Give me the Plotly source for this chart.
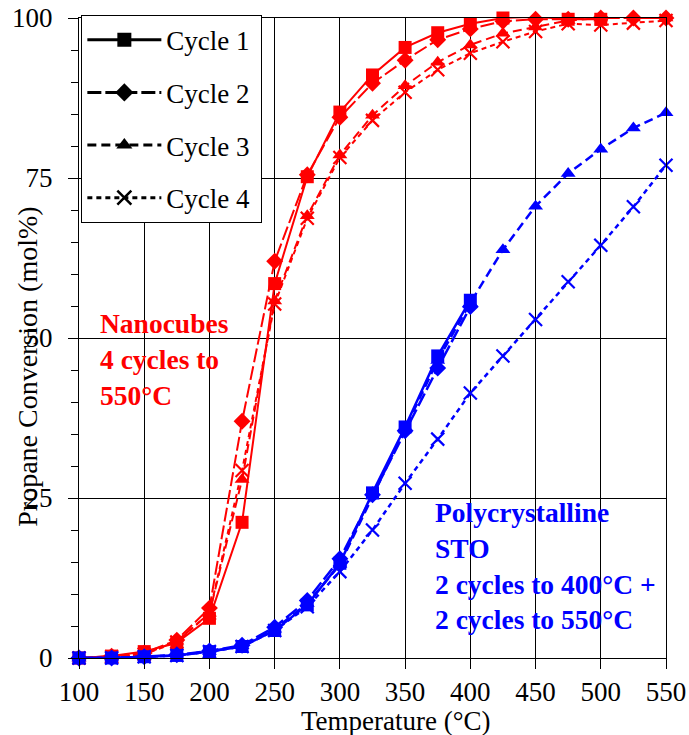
import plotly.graph_objects as go

temps = [100, 125, 150, 175, 200, 225, 250, 275, 300, 325, 350, 375, 400,
         425, 450, 475, 500, 525, 550]
temps_400 = temps[:13]

# Nanocubes (red), 4 cycles to 550 C
nano_c1 = [0, 0.3, 1.0, 2.4, 6.2, 21.2, 58.5, 75.2, 85.3, 91.1, 95.4, 97.7, 99.1,
           100.0, 100.2, 99.8, 99.8, 100.6, 100.3]
nano_c2 = [0, 0.3, 0.8, 2.8, 7.8, 37.0, 62.0, 75.5, 84.5, 89.8, 93.4, 96.6, 98.3,
           99.5, 99.8, 99.8, 100.0, 100.0, 100.0]
nano_c3 = [0, 0.2, 0.6, 2.6, 7.0, 27.9, 55.8, 69.1, 78.6, 84.8, 89.4, 93.1, 95.8,
           97.6, 98.6, 99.6, 100.0, 100.0, 100.0]
nano_c4 = [0, 0.2, 0.6, 2.5, 7.0, 29.3, 55.3, 68.7, 78.2, 84.0, 88.4, 91.9, 94.5,
           96.3, 97.9, 99.1, 98.9, 99.2, 99.6]

# Polycrystalline STO (blue): 2 cycles to 400 C + 2 cycles to 550 C
poly_c1 = [0, 0, 0.2, 0.4, 1.0, 1.8, 4.3, 8.3, 14.8, 25.8, 36.1, 47.2, 55.9]
poly_c2 = [0, 0, 0.2, 0.5, 1.1, 2.0, 4.8, 9.0, 15.5, 25.5, 35.5, 45.3, 54.9]
poly_c3 = [0, 0, 0.2, 0.4, 1.0, 1.9, 4.5, 8.5, 14.6, 25.3, 35.8, 46.5, 55.5,
           63.8, 70.6, 75.7, 79.5, 82.8, 85.2]
poly_c4 = [0, 0, 0.2, 0.4, 1.0, 1.8, 4.3, 8.0, 13.5, 20.0, 27.3, 34.2, 41.4,
           47.2, 52.9, 58.8, 64.5, 70.5, 77.0]

cycle_names = ["Cycle 1", "Cycle 2", "Cycle 3", "Cycle 4"]
x_ticks = [100, 150, 200, 250, 300, 350, 400, 450, 500, 550]
y_ticks = [0, 25, 50, 75, 100]

FONT = "Times New Roman, Liberation Serif, serif"
RED = "#FF0000"
BLUE = "#0000FF"

styles = [
    dict(dash="solid", symbol="square", size=13),
    dict(dash="14px,4px", symbol="diamond", size=13),
    dict(dash="9px,5px", symbol="triangle-up", size=13),
    dict(dash="5px,4px", symbol="x-thin-open", size=13),
]

fig = go.Figure()


def add_series(x, y, color, st, width):
    if st["symbol"] == "x-thin-open":
        marker = dict(symbol=st["symbol"], size=st["size"],
                      line=dict(color=color, width=2.2), color=color)
    else:
        marker = dict(symbol=st["symbol"], size=st["size"], color=color,
                      line=dict(width=0))
    fig.add_trace(go.Scatter(
        x=x, y=y, mode="lines+markers", showlegend=False,
        line=dict(color=color, width=width, dash=st["dash"]),
        marker=marker, cliponaxis=False, hoverinfo="skip"))


nano = [nano_c1, nano_c2, nano_c3, nano_c4]
poly = [poly_c1, poly_c2, poly_c3, poly_c4]
poly_x = [temps_400, temps_400, temps, temps]

for i in [3, 2, 1, 0]:
    add_series(temps, nano[i], RED, styles[i], 2)
for i in [3, 2, 1, 0]:
    add_series(poly_x[i], poly[i], BLUE, styles[i], 2.5)

# legend entries (black)
for i, name in enumerate(cycle_names):
    st = styles[i]
    if st["symbol"] == "x-thin-open":
        marker = dict(symbol=st["symbol"], size=14,
                      line=dict(color="black", width=2.5), color="black")
    else:
        marker = dict(symbol=st["symbol"], size=14, color="black",
                      line=dict(width=0))
    fig.add_trace(go.Scatter(
        x=[None], y=[None], mode="lines+markers", name=name + "\u00a0",
        legendgroup=name,
        line=dict(color="black", width=3, dash=st["dash"]),
        marker=marker))

fig.add_annotation(
    x=114.5, y=55.0, xref="x", yref="y", xanchor="left", yanchor="top",
    align="left", showarrow=False,
    text="<b>Nanocubes<br>4 cycles to<br>550°C</b>",
    font=dict(family=FONT, size=27.5, color=RED))

fig.add_annotation(
    x=371.5, y=25.4, xref="x", yref="y", xanchor="left", yanchor="top",
    align="left", showarrow=False,
    text="<b>Polycrystalline<br>STO<br>2 cycles to 400°C +<br>2 cycles to 550°C</b>",
    font=dict(family=FONT, size=27.5, color=BLUE))

# axis titles
fig.add_annotation(
    x=-0.087, y=0.455, xref="paper", yref="paper", showarrow=False,
    xanchor="center", yanchor="middle",
    textangle=-90, text="Propane Conversion (mol%)",
    font=dict(family=FONT, size=28, color="black"))
fig.add_annotation(
    x=0.54, y=-0.098, xref="paper", yref="paper", showarrow=False,
    xanchor="center", yanchor="middle",
    text="Temperature (°C)",
    font=dict(family=FONT, size=27, color="black"))

fig.update_layout(
    width=689, height=735,
    margin=dict(l=79, r=23, t=18, b=77, autoexpand=False),
    paper_bgcolor="white", plot_bgcolor="white",
    font=dict(family=FONT, size=27, color="black"),
    legend=dict(
        x=0.004, y=1.005, xanchor="left", yanchor="top",
        bgcolor="white", bordercolor="black", borderwidth=1,
        font=dict(family=FONT, size=27, color="black"),
        tracegroupgap=14.5, traceorder="grouped", itemwidth=74),
)

fig.update_xaxes(
    range=[100, 550], tickvals=x_ticks, ticktext=[str(v) for v in x_ticks],
    showgrid=True, gridcolor="black", gridwidth=1,
    showline=True, linecolor="black", linewidth=1, mirror=True,
    ticks="outside", ticklen=10, tickcolor="black", tickwidth=1,
    ticklabelstandoff=0, zeroline=False, automargin=False,
    ticklabeloverflow="allow",
    tickfont=dict(family=FONT, size=27, color="black"))
fig.update_yaxes(
    range=[0, 100], tickvals=y_ticks, ticktext=[str(v) for v in y_ticks],
    showgrid=True, gridcolor="black", gridwidth=1,
    showline=True, linecolor="black", linewidth=1, mirror=True,
    ticks="outside", ticklen=10, tickcolor="black", tickwidth=1,
    ticklabelstandoff=10, zeroline=False, automargin=False,
    ticklabeloverflow="allow",
    minor=dict(dtick=5, ticks="outside", ticklen=7, tickcolor="black",
               showgrid=False),
    tickfont=dict(family=FONT, size=27, color="black"))

fig.write_html(
    "out.html",
    config={"displayModeBar": False},
    post_script="document.body.style.margin='0';document.body.style.overflow='hidden';")
